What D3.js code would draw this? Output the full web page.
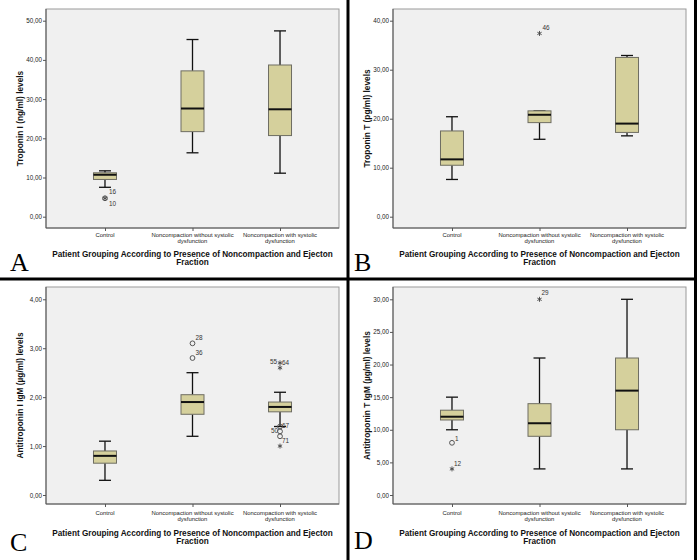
<!DOCTYPE html>
<html><head><meta charset="utf-8">
<script src="https://cdn.jsdelivr.net/npm/d3@7"></script>
<style>
html,body{margin:0;padding:0;background:#fff;}
svg{display:block;font-family:"Liberation Sans",Arial,sans-serif;}
</style></head>
<body>
<svg id="chart" width="697" height="560"></svg>
<script>
// ---------- DATA ----------
const categories = ["Control", "Noncompaction without systolic dysfunction", "Noncompaction with systolic dysfunction"];
const categoryLines = [["Control"], ["Noncompaction without systolic", "dysfunction"], ["Noncompaction with systolic", "dysfunction"]];
const xTitleLines = ["Patient Grouping According to Presence of Noncompaction and Ejecton", "Fraction"];
const panelLetters = ["A", "B", "C", "D"];
const yTitles = ["Troponin I (ng/ml) levels", "Troponin T (pg/ml) levels", "Antitroponin I IgM (\u00b5g/ml) levels", "Antitroponin T IgM (\u00b5g/ml) levels"];

// five-number rows per category: [lower whisker, Q1, median, Q3, upper whisker]
const troponinIStats = [[7.5, 9.5, 10.7, 11.2, 11.7], [16.3, 21.7, 27.6, 37.2, 45.2], [11.1, 20.7, 27.4, 38.7, 47.4]];
const troponinTStats = [[7.6, 10.5, 11.7, 17.5, 20.4], [15.8, 19.2, 20.8, 21.6, 21.6], [16.5, 17.2, 19.0, 32.5, 32.9]];
const antiTnIStats = [[0.3, 0.65, 0.8, 0.9, 1.1], [1.2, 1.65, 1.9, 2.05, 2.5], [1.4, 1.7, 1.8, 1.9, 2.1]];
const antiTnTStats = [[10, 11.5, 12, 13, 15], [4, 9, 11, 14, 21], [4, 10, 16, 21, 30]];

const troponinITicks = [0, 10, 20, 30, 40, 50];
const troponinTTicks = [0, 10, 20, 30, 40];
const antiTnITicks = [0, 1, 2, 3, 4];
const antiTnTTicks = [0, 5, 10, 15, 20, 25, 30];

// outliers: category index, value, case label, marker kind
const troponinIOutliers = [
  {cat: 0, value: 4.7, label: "16", mark: "circle"},
  {cat: 0, value: 4.7, label: "10", mark: "star"}
];
const troponinTOutliers = [
  {cat: 1, value: 37.4, label: "46", mark: "star"}
];
const antiTnIOutliers = [
  {cat: 1, value: 3.1, label: "28", mark: "circle"},
  {cat: 1, value: 2.8, label: "36", mark: "circle"},
  {cat: 2, value: 2.7, label: "64", mark: "star"},
  {cat: 2, value: 2.6, label: "55", mark: "star"},
  {cat: 2, value: 1.4, label: "67", mark: "circle"},
  {cat: 2, value: 1.3, label: "50", mark: "circle"},
  {cat: 2, value: 1.2, label: "71", mark: "circle"},
  {cat: 2, value: 1.0, label: "", mark: "star"}
];
const antiTnTOutliers = [
  {cat: 0, value: 8, label: "1", mark: "circle"},
  {cat: 0, value: 4, label: "12", mark: "star"},
  {cat: 1, value: 30, label: "29", mark: "star"}
];

// ---------- LAYOUT / STYLE ----------
const labelPlace = { // dx, dy, anchor for case labels
  "A16": [4, -4, "start"], "A10": [4, 8, "start"],
  "B46": [3, -3, "start"],
  "C28": [3, -3, "start"], "C36": [3, -3, "start"],
  "C64": [2, 2, "start"], "C55": [-3, -4, "end"],
  "C67": [2, 1, "start"], "C50": [-2, 2, "end"], "C71": [2, 7, "start"],
  "D1": [3, -2, "start"], "D12": [2, -3, "start"], "D29": [2, -4, "start"]
};

const panels = [
  {letter: 0, stats: troponinIStats, ticks: troponinITicks, outliers: troponinIOutliers, ox: 0, row: 0},
  {letter: 1, stats: troponinTStats, ticks: troponinTTicks, outliers: troponinTOutliers, ox: 347, row: 0},
  {letter: 2, stats: antiTnIStats, ticks: antiTnITicks, outliers: antiTnIOutliers, ox: 0, row: 1},
  {letter: 3, stats: antiTnTStats, ticks: antiTnTTicks, outliers: antiTnTOutliers, ox: 347, row: 1}
];
const rows = [
  {top: 9, bottom: 228, yZero: 216.7, yMax: 20.7, cat1: 236.8, cat2: 242.9, t1: 257, t2: 265.2, letterY: 271},
  {top: 287, bottom: 504, yZero: 495, yMax: 299.3, cat1: 515.1, cat2: 521.2, t1: 535.6, t2: 543.8, letterY: 551}
];

const svg = d3.select("#chart");
const fmt = v => d3.format(".2f")(v).replace(".", ",");
const boxFill = "#d5d09c", boxStroke = "#6e6d62", plotBg = "#f0f0f0";

panels.forEach(p => {
  const r = rows[p.row];
  const left = p.ox + 46, right = p.ox + 339;
  const g = svg.append("g");
  const x = d3.scalePoint().domain(categories).range([left, right]).padding(0.674);
  const y = d3.scaleLinear().domain([0, d3.max(p.ticks)]).range([r.yZero, r.yMax]);

  g.append("rect").attr("x", left).attr("y", r.top).attr("width", right - left).attr("height", r.bottom - r.top)
    .attr("fill", plotBg).attr("stroke", "#9a9a9a").attr("stroke-width", 1);

  // y axis
  const ya = g.append("g").attr("transform", `translate(${left},0)`)
    .call(d3.axisLeft(y).tickValues(p.ticks).tickFormat(fmt).tickSize(3).tickPadding(1));
  ya.select(".domain").remove();
  ya.selectAll("line").attr("stroke", "#555");
  ya.selectAll("text").attr("font-size", 6.3).attr("fill", "#222").attr("font-family", "Liberation Sans, Arial, sans-serif");
  g.append("line").attr("x1", left).attr("x2", left).attr("y1", r.top).attr("y2", r.bottom).attr("stroke", "#555");

  // x axis
  const xa = g.append("g").attr("transform", `translate(0,${r.bottom})`)
    .call(d3.axisBottom(x).tickSize(3).tickFormat(""));
  xa.select(".domain").remove();
  xa.selectAll("line").attr("stroke", "#555");
  g.append("line").attr("x1", left).attr("x2", right).attr("y1", r.bottom).attr("y2", r.bottom).attr("stroke", "#555");

  categories.forEach((c, i) => {
    categoryLines[i].forEach((ln, k) => {
      g.append("text").attr("x", x(c)).attr("y", k === 0 ? r.cat1 : r.cat2)
        .attr("text-anchor", "middle").attr("font-size", 5.9).attr("fill", "#222").text(ln);
    });
  });

  // boxes
  const bw = 23, cap = 6;
  p.stats.forEach((s, i) => {
    const cx = x(categories[i]);
    const [lo, q1, md, q3, hi] = s;
    g.append("line").attr("x1", cx).attr("x2", cx).attr("y1", y(q3)).attr("y2", y(hi)).attr("stroke", "#111").attr("stroke-width", 1.3);
    g.append("line").attr("x1", cx).attr("x2", cx).attr("y1", y(q1)).attr("y2", y(lo)).attr("stroke", "#111").attr("stroke-width", 1.3);
    g.append("line").attr("x1", cx - cap).attr("x2", cx + cap).attr("y1", y(hi)).attr("y2", y(hi)).attr("stroke", "#111").attr("stroke-width", 1.3);
    g.append("line").attr("x1", cx - cap).attr("x2", cx + cap).attr("y1", y(lo)).attr("y2", y(lo)).attr("stroke", "#111").attr("stroke-width", 1.3);
    g.append("rect").attr("x", cx - bw / 2).attr("y", y(q3)).attr("width", bw).attr("height", Math.max(0.5, y(q1) - y(q3)))
      .attr("fill", boxFill).attr("stroke", boxStroke).attr("stroke-width", 1);
    g.append("line").attr("x1", cx - bw / 2).attr("x2", cx + bw / 2).attr("y1", y(md)).attr("y2", y(md)).attr("stroke", "#111").attr("stroke-width", 2);
  });

  // outliers
  p.outliers.forEach(o => {
    const cx = x(categories[o.cat]), cy = y(o.value);
    if (o.mark === "circle") {
      g.append("circle").attr("cx", cx).attr("cy", cy).attr("r", 2.4).attr("fill", "none").attr("stroke", "#555").attr("stroke-width", 1);
    } else {
      const rr = 2.5;
      [90, 30, 150].forEach(a => {
        const t = a * Math.PI / 180;
        g.append("line").attr("x1", cx - rr * Math.cos(t)).attr("x2", cx + rr * Math.cos(t))
          .attr("y1", cy - rr * Math.sin(t)).attr("y2", cy + rr * Math.sin(t)).attr("stroke", "#444").attr("stroke-width", 0.9);
      });
    }
    if (o.label) {
      const pl = labelPlace[panelLetters[p.letter] + o.label] || [3, -3, "start"];
      g.append("text").attr("x", cx + pl[0]).attr("y", cy + pl[1]).attr("text-anchor", pl[2])
        .attr("font-size", 6.4).attr("fill", "#333").text(o.label);
    }
  });

  // y title
  const ycx = p.ox + 20, ycy = (r.top + r.bottom) / 2;
  g.append("text").attr("transform", `translate(${ycx + 3},${ycy}) rotate(-90)`)
    .attr("text-anchor", "middle").attr("font-size", 8.3).attr("font-weight", "bold").attr("fill", "#111").text(yTitles[p.letter]);

  // x title
  const tcx = (left + right) / 2;
  xTitleLines.forEach((ln, k) => {
    g.append("text").attr("x", tcx).attr("y", k === 0 ? r.t1 : r.t2).attr("text-anchor", "middle")
      .attr("font-size", 8.2).attr("font-weight", "bold").attr("fill", "#111").text(ln);
  });

  // panel letter
  g.append("text").attr("x", p.ox + (p.ox ? 7 : 10)).attr("y", r.letterY - (p.ox && p.row ? 2 : 0))
    .attr("font-family", "Liberation Serif, Times New Roman, serif").attr("font-size", 26).attr("fill", "#000").text(panelLetters[p.letter]);
});

// dividers
svg.append("line").attr("x1", 348).attr("x2", 348).attr("y1", 0).attr("y2", 560).attr("stroke", "#000").attr("stroke-width", 3);
svg.append("line").attr("x1", 0).attr("x2", 697).attr("y1", 279).attr("y2", 279).attr("stroke", "#000").attr("stroke-width", 3);
svg.append("line").attr("x1", 695.5).attr("x2", 695.5).attr("y1", 0).attr("y2", 560).attr("stroke", "#000").attr("stroke-width", 3);
</script>
</body></html>
